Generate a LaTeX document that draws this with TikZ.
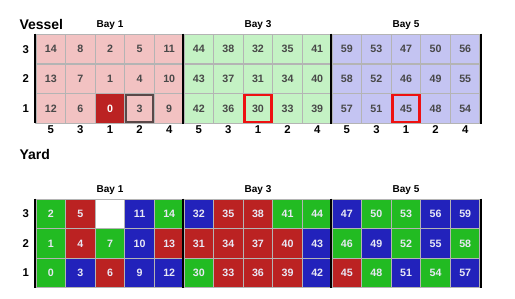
\documentclass[tikz,border=0pt]{standalone}
\usepackage{fontspec}
\setmainfont{Liberation Sans}

\definecolor{bayone}{HTML}{F2C2C2}
\definecolor{baythree}{HTML}{C4F2C4}
\definecolor{bayfive}{HTML}{C4C4F2}
\definecolor{cellgrey}{HTML}{B4B4B4}
\definecolor{celltext}{HTML}{484848}
\definecolor{yardtext}{HTML}{E8E8F4}
\definecolor{boxred}{HTML}{BB2222}
\definecolor{boxbrown}{HTML}{5A4848}
\definecolor{hlred}{HTML}{EE1111}
\definecolor{yr}{HTML}{BB2222}
\definecolor{yg}{HTML}{22BB22}
\definecolor{yb}{HTML}{2222BB}

\tikzset{every picture/.style={line width=0.75pt}}

\begin{document}
\begin{tikzpicture}[x=0.75pt,y=0.75pt,yscale=-1,xscale=1,
	cell/.style={draw=cellgrey, line width=0.9pt, minimum width=22.2pt, minimum height=22.2pt, inner sep=0pt, font=\fontsize{8}{9}\selectfont\bfseries},
	vcell/.style={cell, text=celltext},
	ycell/.style={cell, text=yardtext},
	cell 0/.style={fill=boxred, text=white},
	hlbox/.style={draw=#1, line width=1.8pt, minimum width=20.4pt, minimum height=20.4pt, inner sep=0pt},
	axislabel/.style={inner sep=0.75pt, font=\fontsize{8.5}{10}\selectfont\bfseries},
	baylabel/.style={inner sep=0.75pt, font=\fontsize{7.5}{9}\selectfont\bfseries},
	titlelabel/.style={anchor=west, inner sep=0pt, font=\fontsize{10.5}{12}\selectfont\bfseries},
	divider/.style={line width=1.5pt, black}]
	\useasboundingbox (0,0) rectangle (515,299);
	
	% Titles
	\node [titlelabel] (vessel) at (19,24) {Vessel};
	\node [titlelabel] (yard) at (19,154.3) {Yard};
	
	% Bay labels
	\foreach \bay/\name in {0/1,1/3,2/5}{
		\node [baylabel] (vb-\name) at ({36+(5*\bay+2.5)*29.6},25.5) {Bay \name};
		\node [baylabel] (yb-\name) at ({36+(5*\bay+2.5)*29.6},190.5) {Bay \name};
	}
	
	% Row labels
	\foreach \row in {1,2,3}{
		\node [axislabel] (vr-\row) at (25.7,{34.3+(3.5-\row)*29.67}) {\row};
		\node [axislabel] (yr-\row) at (25.7,{199.3+(3.5-\row)*29.5}) {\row};
	}
	
	% Vessel cells
	\foreach \bay/\base/\tint in {0/0/bayone,1/30/baythree,2/45/bayfive}{
		\foreach \col/\slot in {1/4,2/2,3/0,4/1,5/3}{
			\pgfmathtruncatemacro{\k}{5*\bay+\col}
			\pgfmathtruncatemacro{\lab}{\slot+1}
			\node [axislabel] (vc-\k) at ({36+(\k-0.5)*29.6},130) {\lab};
			\foreach \row in {1,2,3}{
				\pgfmathtruncatemacro{\n}{\base+3*\slot+\row-1}
				\node [vcell, fill=\tint, cell \n/.try] (v-\n) at ({36+(\k-0.5)*29.6},{34.3+(3.5-\row)*29.67}) {\n};
			}
		}
	}
	
	% Highlighted vessel slots
	\node [hlbox=boxbrown] (h-3) at (v-3) {};
	\node [hlbox=hlred] (h-30) at (v-30) {};
	\node [hlbox=hlred] (h-45) at (v-45) {};
	
	% Yard cells
	\foreach \k/\first/\ca/\cb/\cc in {1/0/yg/yg/yg, 2/3/yb/yr/yr, 3/6/yr/yg/white, 4/9/yb/yb/yb, 5/12/yb/yr/yg,
		6/30/yg/yr/yb, 7/33/yr/yr/yr, 8/36/yr/yr/yr, 9/39/yr/yr/yg, 10/42/yb/yb/yg,
		11/45/yr/yg/yb, 12/48/yg/yb/yg, 13/51/yb/yg/yg, 14/54/yg/yb/yb, 15/57/yb/yg/yb}{
		\foreach \row/\tint in {1/\ca,2/\cb,3/\cc}{
			\pgfmathtruncatemacro{\n}{\first+\row-1}
			\node [ycell, fill=\tint] (y-\n) at ({36+(\k-0.5)*29.6},{199.3+(3.5-\row)*29.5}) {\ifnum\n=8 \else\n\fi};
		}
	}
	
	% Bay dividers
	\draw [divider] (v-14.north west) -- ([yshift=-1pt]v-12.south west);
	\draw [divider] (v-44.north west) -- (v-42.south west);
	\draw [divider] (v-59.north west) -- (v-57.south west);
	\draw [divider] (v-56.north east) -- (v-54.south east);
	\draw [divider] (y-2.north west) -- (y-0.south west);
	\draw [divider] (y-32.north west) -- (y-30.south west);
	\draw [divider] (y-47.north west) -- (y-45.south west);
	\draw [divider] (y-59.north east) -- (y-57.south east);
	
\end{tikzpicture}
\end{document}
